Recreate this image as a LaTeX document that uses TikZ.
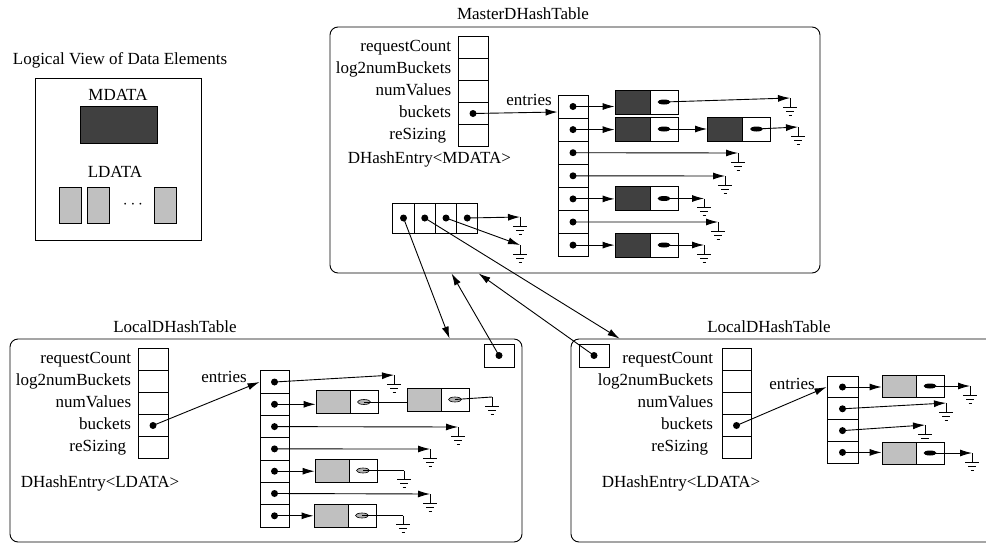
\documentclass[tikz,border=0pt]{standalone}
\usepackage{fontspec}
\setmainfont{Liberation Serif}
\usepackage{tikz}
\usetikzlibrary{positioning,arrows.meta}

\definecolor{mgray}{HTML}{404040}
\definecolor{lgray}{HTML}{C0C0C0}

\tikzset{
  gnd/.pic={\draw (0,0) -- (0,9) (-7,9) -- (7,9) (-4,13) -- (4,13) (-1.5,17) -- (1.5,17);}
}

\begin{document}
\begin{tikzpicture}[x=1pt,y=-1pt,line width=0.9pt,on grid,
    font=\fontsize{17}{20}\selectfont,
    field/.style={draw,minimum width=30pt,minimum height=22pt,inner sep=0pt},
    ptrcell/.style={field,path picture={\fill (path picture bounding box.center) circle (3.5pt);}},
    mentry/.style={ptrcell,minimum height=23.1pt},
    lentry/.style={ptrcell,minimum width=29pt,minimum height=22.3pt},
    rentry/.style={ptrcell,minimum width=31pt,minimum height=21.8pt},
    slot/.style={ptrcell,minimum width=21.25pt,minimum height=30pt},
    mdata/.style={draw,fill=mgray,minimum width=35pt,minimum height=24pt,inner sep=0pt},
    ldata/.style={draw,fill=lgray,minimum width=34pt,minimum height=23pt,inner sep=0pt},
    nxt/.style={draw,minimum width=28pt,minimum height=24pt,inner sep=0pt,
      path picture={\fill (path picture bounding box.center) ellipse (6.5pt and 2.5pt);}},
    lnxt/.style={nxt,minimum height=23pt,
      path picture={\draw[fill=gray!60,line width=0.6pt] (path picture bounding box.center) ellipse (6.5pt and 2.5pt);}},
    table/.style={draw,rounded corners=8pt,inner sep=0pt},
    lbl/.style={anchor=east,inner sep=0pt,text height=12pt,text depth=3.5pt},
    ptr/.style={-{Latex[length=12pt,width=7pt]}}]
  \useasboundingbox (0,0) rectangle (986,544);
  \clip (0,0) rectangle (986,544);

  % logical view
  \node (ltitle) at (120,60) {Logical View of Data Elements};
  \node[draw,minimum width=166pt,minimum height=162pt] (logic) at (118,159) {};
  \node (mlbl) at (118,95) {MDATA};
  \node[draw,fill=mgray,minimum width=77pt,minimum height=37pt] (mblock) at (118.5,124.5) {};
  \node (llbl) at (115,172) {LDATA};
  \node[draw,fill=lgray,minimum width=22pt,minimum height=36pt] (lblock1) at (70,205) {};
  \node[draw,fill=lgray,minimum width=22pt,minimum height=36pt,right=28pt of lblock1] (lblock2) {};
  \node (ldots) at (133,205) {$\cdots$};
  \node[draw,fill=lgray,minimum width=22pt,minimum height=36pt] (lblock3) at (165,205) {};

  % master table
  \node (mtitle) at (523,14) {MasterDHashTable};
  \node[table,minimum width=490pt,minimum height=246pt] (master) at (575,150) {};
  \node[field] (mreq) at (473,47.5) {};
  \node[field,below=22pt of mreq] (mlog) {};
  \node[field,below=22pt of mlog] (mnum) {};
  \node[ptrcell,below=22pt of mnum] (mbuck) {};
  \node[field,below=22pt of mbuck] (mres) {};
  \node[lbl] (mreqlbl) at ([xshift=-6pt]mreq.west) {requestCount};
  \node[lbl] (mloglbl) at ([xshift=-6pt]mlog.west) {log2numBuckets};
  \node[lbl] (mnumlbl) at ([xshift=-6pt]mnum.west) {numValues};
  \node[lbl] (mbucklbl) at ([xshift=-6pt]mbuck.west) {buckets};
  \node[lbl] (mreslbl) at ([xshift=-11pt]mres.west) {reSizing};
  \node[anchor=west] (mtype) at (344,159) {DHashEntry<MDATA>};

  \node (ment) at (529,100) {entries};
  \node[mentry] (ment1) at (573,106.5) {};
  \node[mentry,below=23.1pt of ment1] (ment2) {};
  \node[mentry,below=23.1pt of ment2] (ment3) {};
  \node[mentry,below=23.1pt of ment3] (ment4) {};
  \node[mentry,below=23.1pt of ment4] (ment5) {};
  \node[mentry,below=23.1pt of ment5] (ment6) {};
  \node[mentry,below=23.1pt of ment6] (ment7) {};

  \node[mdata] (mn1d) at (632.5,102) {};
  \node[nxt,right=31.5pt of mn1d] (mn1p) {};
  \node[mdata] (mn2d) at (632.5,129) {};
  \node[nxt,right=31.5pt of mn2d] (mn2p) {};
  \node[mdata] (mn2bd) at (725,129) {};
  \node[nxt,right=31.5pt of mn2bd] (mn2bp) {};
  \node[mdata] (mn5d) at (632.5,198.5) {};
  \node[nxt,right=31.5pt of mn5d] (mn5p) {};
  \node[mdata] (mn7d) at (632.5,245) {};
  \node[nxt,right=31.5pt of mn7d] (mn7p) {};

  \node[slot] (mslot1) at (403.5,218) {};
  \node[slot,right=21.25pt of mslot1] (mslot2) {};
  \node[slot,right=21.25pt of mslot2] (mslot3) {};
  \node[slot,right=21.25pt of mslot3] (mslot4) {};

  \coordinate (mg1) at (790,98);
  \coordinate (mg2) at (798,127);
  \coordinate (mg3) at (738,153);
  \coordinate (mg4) at (725,176);
  \coordinate (mg5) at (704,198.5);
  \coordinate (mg6) at (718,222);
  \coordinate (mg7) at (704,245);
  \coordinate (mg8) at (520,217);
  \coordinate (mg9) at (520,245);

  \draw[ptr] (mbuck.center) -- ([yshift=-5.5pt]ment1.west);
  \draw[ptr] (ment1.center) -- (mn1d.west |- ment1.center);
  \draw[ptr] (mn1p.center) -- (mg1);
  \draw[ptr] (ment2.center) -- (mn2d.west |- ment2.center);
  \draw[ptr] (mn2p.center) -- (mn2bd.west);
  \draw[ptr] (mn2bp.center) -- (mg2);
  \draw[ptr] (ment3.center) -- (mg3);
  \draw[ptr] (ment4.center) -- (mg4);
  \draw[ptr] (ment5.center) -- (mn5d.west |- ment5.center);
  \draw[ptr] (mn5p.center) -- (mg5);
  \draw[ptr] (ment6.center) -- (mg6);
  \draw[ptr] (ment7.center) -- (mn7d.west |- ment7.center);
  \draw[ptr] (mn7p.center) -- (mg7);
  \draw[ptr] (mslot4.center) -- (mg8);
  \draw[ptr] (mslot3.center) -- (mg9);
  \pic at (mg1) {gnd};
  \pic at (mg2) {gnd};
  \pic at (mg3) {gnd};
  \pic at (mg4) {gnd};
  \pic at (mg5) {gnd};
  \pic at (mg6) {gnd};
  \pic at (mg7) {gnd};
  \pic at (mg8) {gnd};
  \pic at (mg9) {gnd};

  % left local table
  \node (ltitle2) at (175,327) {LocalDHashTable};
  \node[table,minimum width=512pt,minimum height=203pt] (llocal) at (266,440.5) {};
  \node[ptrcell,minimum height=23pt] (lsmall) at (499,355.5) {};
  \node[field] (lreq) at (153,359.5) {};
  \node[field,below=22pt of lreq] (llog) {};
  \node[field,below=22pt of llog] (lnum) {};
  \node[ptrcell,below=22pt of lnum] (lbuck) {};
  \node[field,below=22pt of lbuck] (lres) {};
  \node[lbl] (lreqlbl) at ([xshift=-6pt]lreq.west) {requestCount};
  \node[lbl] (lloglbl) at ([xshift=-6pt]llog.west) {log2numBuckets};
  \node[lbl] (lnumlbl) at ([xshift=-6pt]lnum.west) {numValues};
  \node[lbl] (lbucklbl) at ([xshift=-6pt]lbuck.west) {buckets};
  \node[lbl] (lreslbl) at ([xshift=-11pt]lres.west) {reSizing};
  \node[anchor=west] (ltype) at (17,483) {DHashEntry<LDATA>};

  \node (lent) at (224,377) {entries};
  \node[lentry] (lent1) at (274.5,382) {};
  \node[lentry,below=22.3pt of lent1] (lent2) {};
  \node[lentry,below=22.3pt of lent2] (lent3) {};
  \node[lentry,below=22.3pt of lent3] (lent4) {};
  \node[lentry,below=22.3pt of lent4] (lent5) {};
  \node[lentry,below=22.3pt of lent5] (lent6) {};
  \node[lentry,below=22.3pt of lent6] (lent7) {};

  \node[ldata] (ln2d) at (333,402) {};
  \node[lnxt,right=31pt of ln2d] (ln2p) {};
  \node[ldata] (ln2bd) at (424,399.5) {};
  \node[lnxt,right=31pt of ln2bd] (ln2bp) {};
  \node[ldata] (ln5d) at (332,470.5) {};
  \node[lnxt,right=31pt of ln5d] (ln5p) {};
  \node[ldata] (ln7d) at (331,515.5) {};
  \node[lnxt,right=31pt of ln7d] (ln7p) {};

  \coordinate (lg1) at (394,375);
  \coordinate (lg2) at (492,397);
  \coordinate (lg3) at (458,427);
  \coordinate (lg4) at (430,449);
  \coordinate (lg5) at (404,470.5);
  \coordinate (lg6) at (430,494);
  \coordinate (lg7) at (403,515.5);

  \draw[ptr] (lbuck.center) -- (lent1.west);
  \draw[ptr] (lent1.center) -- (lg1);
  \draw[ptr] (lent2.center) -- (ln2d.west |- lent2.center);
  \draw (ln2p.center) -- (ln2bd.west |- ln2p.center);
  \draw (ln2bp.center) -- (lg2);
  \draw[ptr] (lent3.center) -- (lg3);
  \draw[ptr] (lent4.center) -- (lg4);
  \draw[ptr] (lent5.center) -- (ln5d.west |- lent5.center);
  \draw (ln5p.center) -- (lg5);
  \draw[ptr] (lent6.center) -- (lg6);
  \draw[ptr] (lent7.center) -- (ln7d.west |- lent7.center);
  \draw (ln7p.center) -- (lg7);
  \pic at (lg1) {gnd};
  \pic at (lg2) {gnd};
  \pic at (lg3) {gnd};
  \pic at (lg4) {gnd};
  \pic at (lg5) {gnd};
  \pic at (lg6) {gnd};
  \pic at (lg7) {gnd};

  % right local table
  \node (rtitle) at (769,327) {LocalDHashTable};
  \node[table,minimum width=429pt,minimum height=203pt] (rlocal) at (785.5,440.5) {};
  \node[ptrcell,minimum height=23pt] (rsmall) at (594,355.5) {};
  \node[field,minimum width=29pt] (rreq) at (736.5,359.5) {};
  \node[field,minimum width=29pt,below=22pt of rreq] (rlog) {};
  \node[field,minimum width=29pt,below=22pt of rlog] (rnum) {};
  \node[ptrcell,minimum width=29pt,below=22pt of rnum] (rbuck) {};
  \node[field,minimum width=29pt,below=22pt of rbuck] (rres) {};
  \node[lbl] (rreqlbl) at ([xshift=-8pt]rreq.west) {requestCount};
  \node[lbl] (rloglbl) at ([xshift=-8pt]rlog.west) {log2numBuckets};
  \node[lbl] (rnumlbl) at ([xshift=-8pt]rnum.west) {numValues};
  \node[lbl] (rbucklbl) at ([xshift=-8pt]rbuck.west) {buckets};
  \node[lbl] (rreslbl) at ([xshift=-13pt]rres.west) {reSizing};
  \node[anchor=west] (rtype) at (598,483) {DHashEntry<LDATA>};

  \node (rent) at (792,384) {entries};
  \node[rentry] (rent1) at (842.5,387) {};
  \node[rentry,below=21.8pt of rent1] (rent2) {};
  \node[rentry,below=21.8pt of rent2] (rent3) {};
  \node[rentry,below=21.8pt of rent3] (rent4) {};

  \node[ldata,minimum height=22pt] (rn1d) at (899,386) {};
  \node[nxt,minimum height=22pt,right=31pt of rn1d] (rn1p) {};
  \node[ldata,minimum height=22pt] (rn4d) at (899,453) {};
  \node[nxt,minimum height=22pt,right=31pt of rn4d] (rn4p) {};

  \coordinate (rg1) at (970,386);
  \coordinate (rg2) at (946,403);
  \coordinate (rg3) at (925,425);
  \coordinate (rg4) at (972,453);

  \draw[ptr] (rbuck.center) -- (rent1.west);
  \draw[ptr] (rent1.center) -- (rn1d.west |- rent1.center);
  \draw[ptr] (rn1p.center) -- (rg1);
  \draw[ptr] (rent2.center) -- (rg2);
  \draw[ptr] (rent3.center) -- (rg3);
  \draw[ptr] (rent4.center) -- (rn4d.west |- rent4.center);
  \draw[ptr] (rn4p.center) -- (rg4);
  \pic at (rg1) {gnd};
  \pic at (rg2) {gnd};
  \pic at (rg3) {gnd};
  \pic at (rg4) {gnd};

  % links between tables
  \draw[ptr] (mslot1.center) -- ([xshift=440pt]llocal.north west);
  \draw[ptr] (mslot2.center) -- ([xshift=49pt]rlocal.north west);
  \draw[ptr] (lsmall.center) -- ([xshift=122pt]master.south west);
  \draw[ptr] (rsmall.center) -- ([xshift=149pt]master.south west);
\end{tikzpicture}
\end{document}
